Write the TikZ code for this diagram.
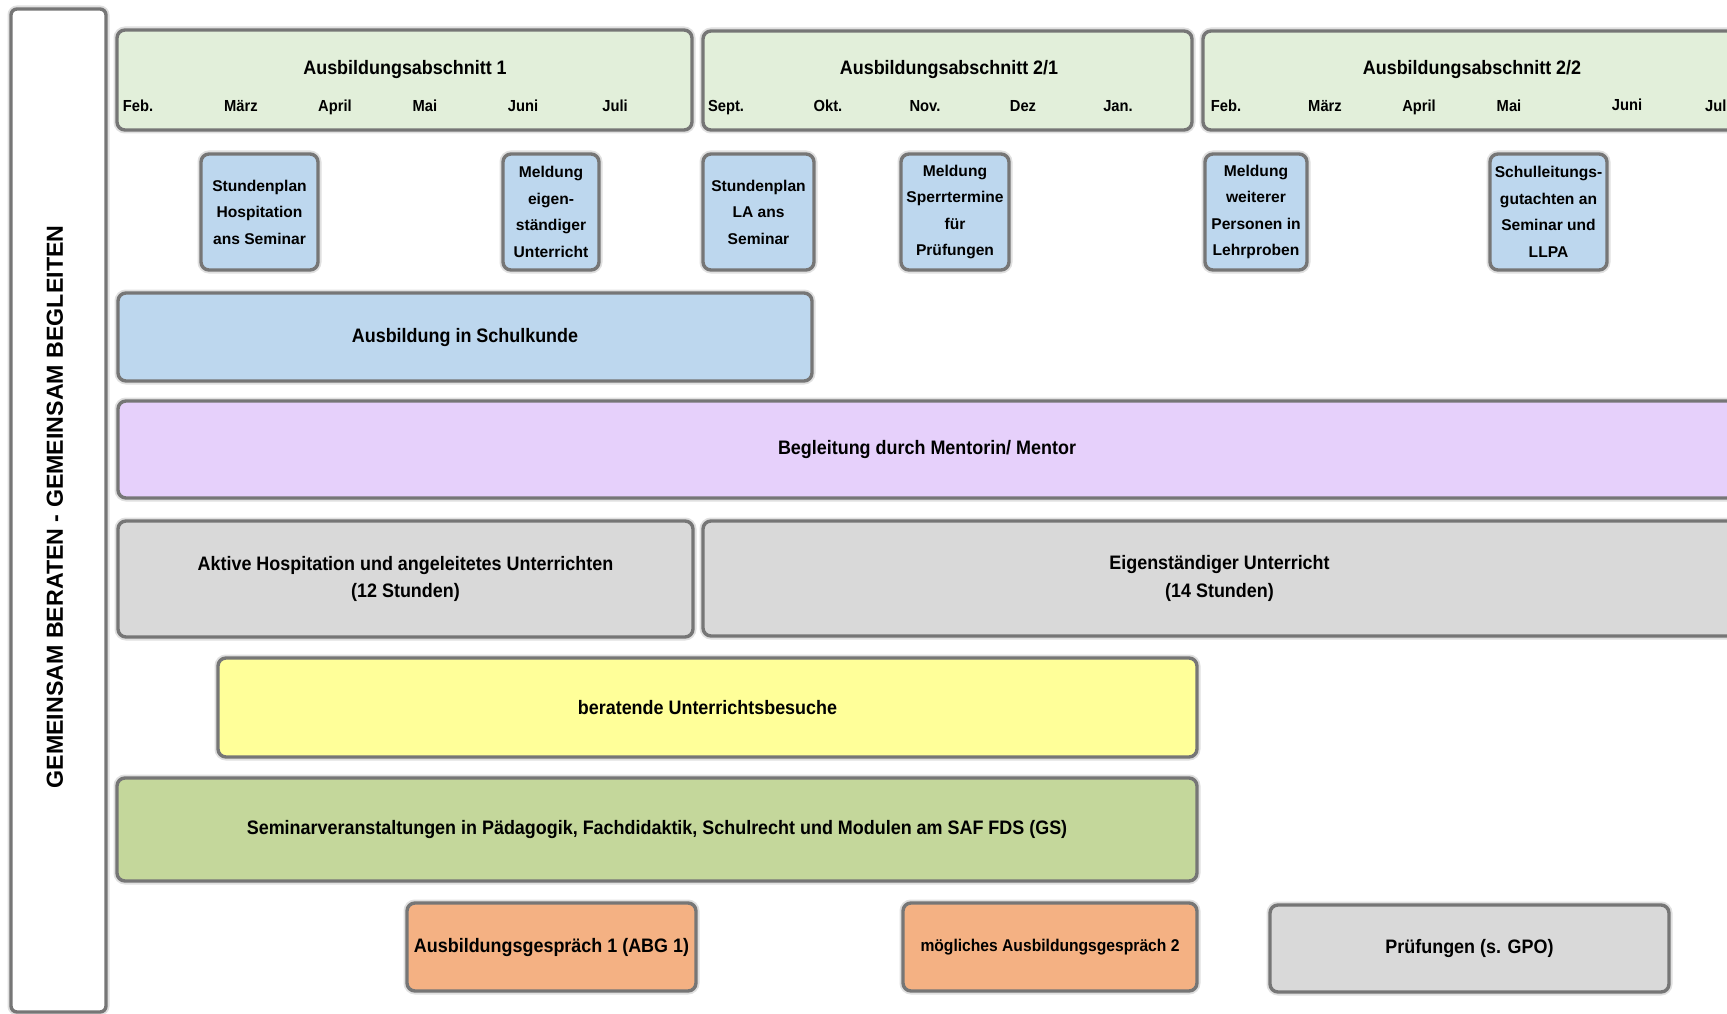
\documentclass[tikz,border=0pt]{standalone}
\usepackage{fontspec}
\setmainfont{Liberation Sans}
\newfontfamily\nfont{Liberation Sans}[FakeStretch=0.92]
\definecolor{bordc}{RGB}{118,118,118}
\definecolor{hdrgreen}{RGB}{226,239,218}
\definecolor{lblue}{RGB}{189,215,238}
\definecolor{lpurple}{RGB}{230,208,251}
\definecolor{lgray}{RGB}{217,217,217}
\definecolor{lyellow}{RGB}{255,255,153}
\definecolor{sgreen}{RGB}{196,215,155}
\definecolor{lorange}{RGB}{244,177,131}
\begin{document}
\begin{tikzpicture}[x=1pt,y=-1pt,
  box/.style={draw=bordc, line width=3.4pt, rounded corners=8pt, inner sep=0pt, outer sep=0pt,
    anchor=north west, align=center, text=black,
    preaction={draw=black!12, line width=7pt}},
  bigtxt/.style={font=\nfont\bfseries\fontsize{19.5}{27.5}\selectfont},
  smalltxt/.style={font=\bfseries\fontsize{15.6}{26.5}\selectfont},
  ttl/.style={font=\nfont\bfseries\fontsize{19.5}{20}\selectfont, anchor=base, inner sep=0pt},
  mon/.style={font=\nfont\bfseries\fontsize{16}{16}\selectfont, anchor=base, inner sep=0pt},
  sbox/.style={box, smalltxt, fill=lblue, minimum height=116pt}
]
\useasboundingbox (0,0) rectangle (1727,1014);
\fill[white] (0,0) rectangle (1727,1014);
\clip (0,0) rectangle (1727,1014);

% left side box
\node[box, fill=white, rounded corners=6pt, minimum width=95pt, minimum height=1003pt] (side) at (11,9) {};
\node[rotate=90, font=\bfseries\fontsize{23.2}{23}\selectfont, inner sep=0pt] (vt) at (55,507) {GEMEINSAM BERATEN - GEMEINSAM BEGLEITEN};

% header boxes
\node[box, fill=hdrgreen, minimum width=575pt, minimum height=100pt] (h1) at (117,30) {};
\node[box, fill=hdrgreen, minimum width=489pt, minimum height=99pt] (h2) at (703,31) {};
\node[box, fill=hdrgreen, minimum width=560pt, minimum height=99pt] (h3) at (1203,31) {};

\node[ttl] (t1) at (405,75) {Ausbildungsabschnitt 1};
\node[ttl] (t2) at (949,75) {Ausbildungsabschnitt 2/1};
\node[ttl] (t3) at (1472,75) {Ausbildungsabschnitt 2/2};

\node[mon] (m11) at (138,112) {Feb.};
\node[mon] (m12) at (241,112) {März};
\node[mon] (m13) at (335,112) {April};
\node[mon] (m14) at (425,112) {Mai};
\node[mon] (m15) at (523,112) {Juni};
\node[mon] (m16) at (615,112) {Juli};

\node[mon] (m21) at (726,112) {Sept.};
\node[mon] (m22) at (828,112) {Okt.};
\node[mon] (m23) at (925,112) {Nov.};
\node[mon] (m24) at (1023,112) {Dez};
\node[mon] (m25) at (1118,112) {Jan.};

\node[mon] (m31) at (1226,112) {Feb.};
\node[mon] (m32) at (1325,112) {März};
\node[mon] (m33) at (1419,112) {April};
\node[mon] (m34) at (1509,112) {Mai};
\node[mon] (m35) at (1627,111) {Juni};
\node[mon, anchor=base west] (m36) at (1705,112) {Juli};

% small blue boxes
\node[sbox, minimum width=117pt] (s1) at (201,154) {Stundenplan\\Hospitation\\ans Seminar};
\node[sbox, minimum width=96pt] (s2) at (503,154) {Meldung\\eigen-\\ständiger\\Unterricht};
\node[sbox, minimum width=111pt] (s3) at (703,154) {Stundenplan\\LA ans\\Seminar};
\node[sbox, minimum width=108pt] (s4) at (901,154) {Meldung\\Sperrtermine\\für\\Prüfungen};
\node[sbox, minimum width=102pt] (s5) at (1205,154) {Meldung\\weiterer\\Personen in\\Lehrproben};
\node[sbox, minimum width=117pt] (s6) at (1490,154) {Schulleitungs-\\gutachten an\\Seminar und\\LLPA};

% wide boxes
\node[box, bigtxt, fill=lblue, minimum width=694pt, minimum height=88pt] (schul) at (118,293) {Ausbildung in Schulkunde};
\node[box, bigtxt, fill=lpurple, minimum width=1618pt, minimum height=97pt] (mentor) at (118,401) {Begleitung durch Mentorin/ Mentor};
\node[box, bigtxt, fill=lgray, minimum width=575pt, minimum height=116pt] (aktiv) at (118,521) {Aktive Hospitation und angeleitetes Unterrichten\\(12 Stunden)};
\node[box, bigtxt, fill=lgray, minimum width=1033pt, minimum height=115pt] (eigen) at (703,521) {Eigenständiger Unterricht\\(14 Stunden)};
\node[box, bigtxt, fill=lyellow, minimum width=979pt, minimum height=99pt] (besuch) at (218,658) {beratende Unterrichtsbesuche};
\node[box, bigtxt, fill=sgreen, minimum width=1080pt, minimum height=103pt] (semin) at (117,778) {Seminarveranstaltungen in Pädagogik, Fachdidaktik, Schulrecht und Modulen am SAF FDS (GS)};
\node[box, bigtxt, fill=lorange, minimum width=289pt, minimum height=88pt] (abg1) at (407,903) {Ausbildungsgespräch 1 (ABG 1)};
\node[box, fill=lorange, minimum width=294pt, minimum height=88pt, font=\nfont\bfseries\fontsize{17}{20}\selectfont] (abg2) at (903,903) {mögliches Ausbildungsgespräch 2};
\node[box, bigtxt, fill=lgray, minimum width=399pt, minimum height=87pt] (pruef) at (1270,905) {Prüfungen (s. GPO)};
\end{tikzpicture}
\end{document}
